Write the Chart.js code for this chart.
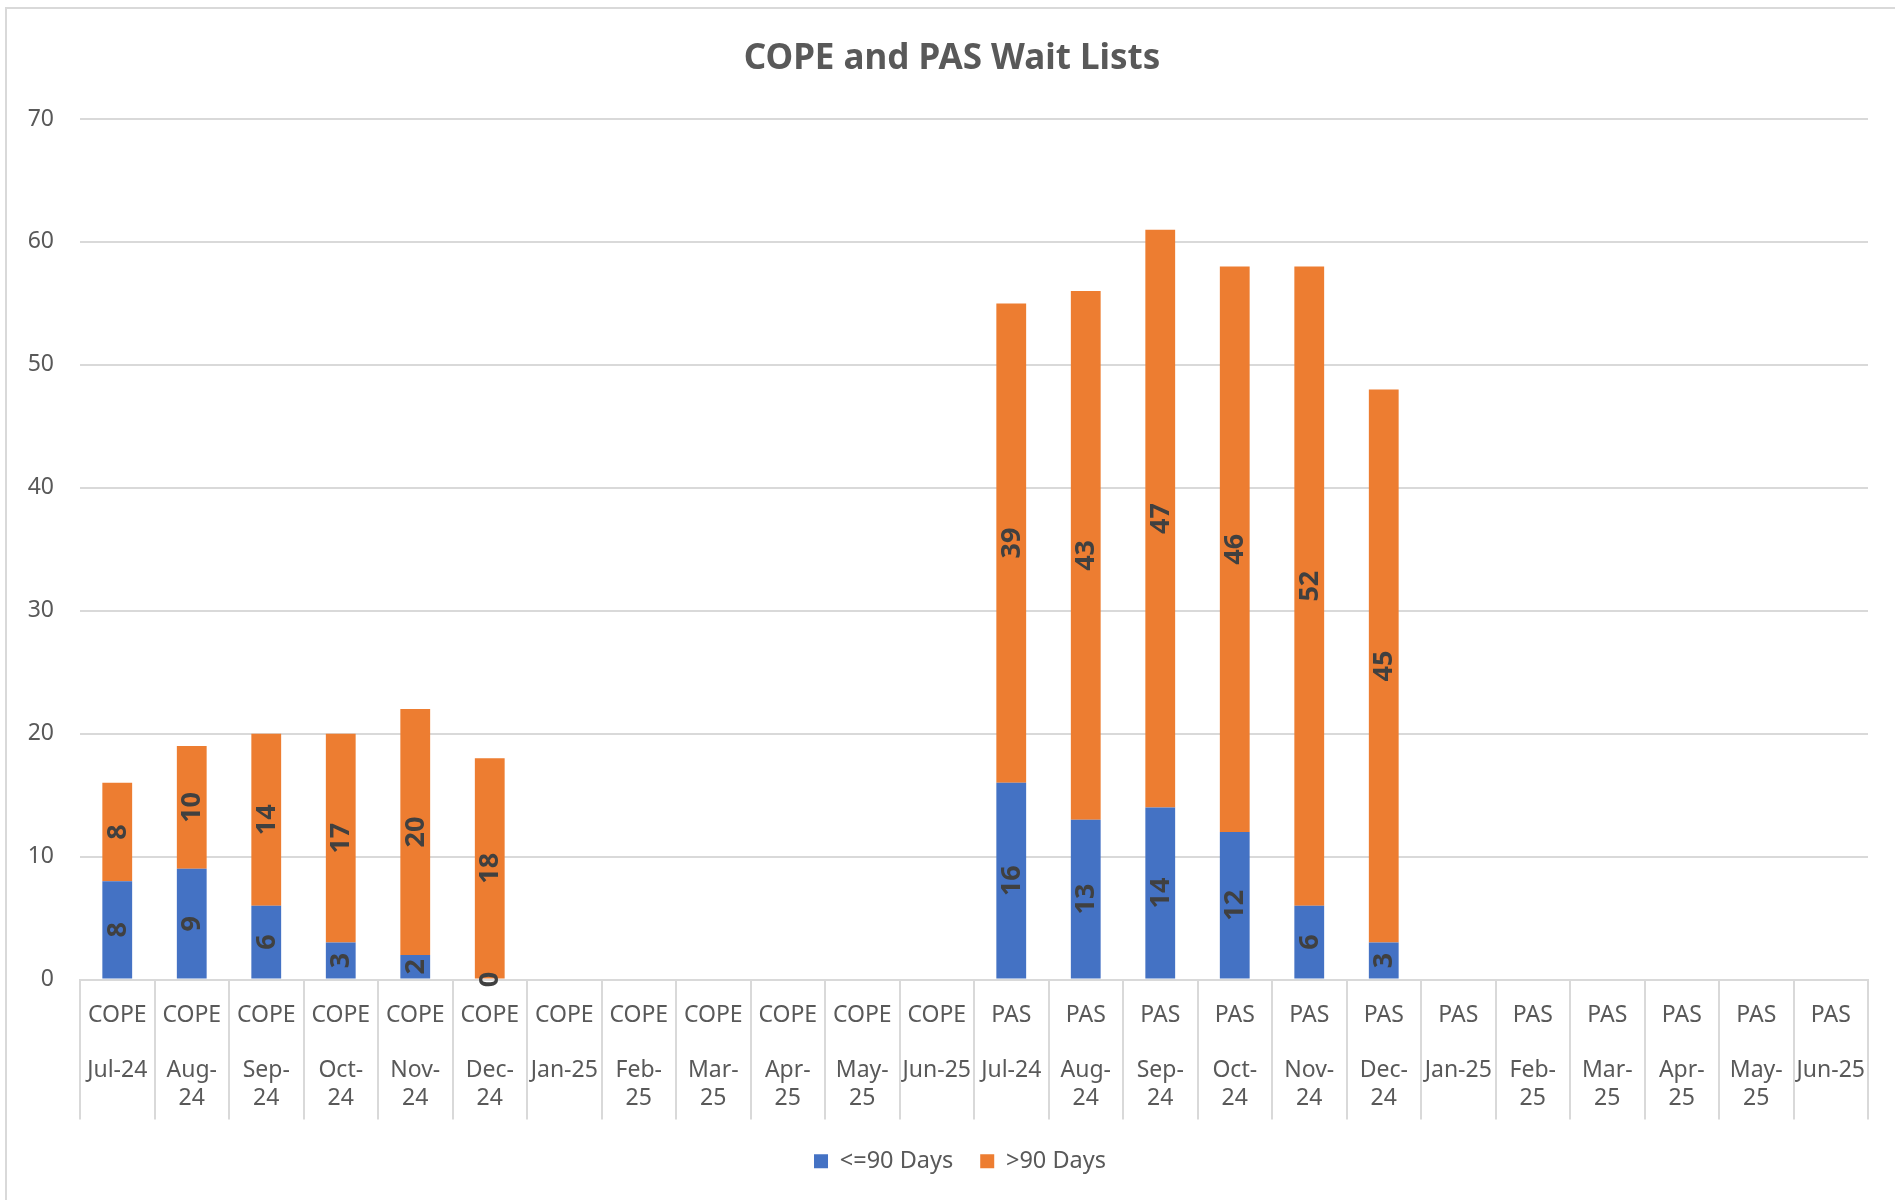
<!DOCTYPE html>
<html>
<head>
<meta charset="utf-8">
<title>COPE and PAS Wait Lists</title>
<script src="https://cdn.jsdelivr.net/npm/chart.js@4.4.1/dist/chart.umd.min.js"></script>
<style>
    html, body { margin: 0; padding: 0; background: #ffffff; overflow: hidden; }
    #frame {
        position: absolute;
        left: 5px;
        top: 7px;
        width: 1892px;
        height: 1193px;
        border: 2px solid #d9d9d9;
        background: #ffffff;
    }
    #waitChart { display: block; }
</style>
</head>
<body>
<div id="frame">
    <canvas id="waitChart" width="1890" height="1191"></canvas>
</div>
<script>
// services and months shown on the category axis
const services = ['COPE', 'PAS'];
const monthLabels = [
    ['Jul-24'], ['Aug-', '24'], ['Sep-', '24'], ['Oct-', '24'], ['Nov-', '24'], ['Dec-', '24'],
    ['Jan-25'], ['Feb-', '25'], ['Mar-', '25'], ['Apr-', '25'], ['May-', '25'], ['Jun-25']
];

// people waiting, per month (null = no data yet)
const copeUnder90 = [8, 9, 6, 3, 2, 0, null, null, null, null, null, null];
const copeOver90 = [8, 10, 14, 17, 20, 18, null, null, null, null, null, null];
const pasUnder90 = [16, 13, 14, 12, 6, 3, null, null, null, null, null, null];
const pasOver90 = [39, 43, 47, 46, 52, 45, null, null, null, null, null, null];

const yTicks = [0, 10, 20, 30, 40, 50, 60, 70];

const textColor = '#595959';
const gridColor = '#d9d9d9';
const separatorLength = 140;

const labels = [];
services.forEach(service => {
    monthLabels.forEach(month => {
        labels.push([service, ''].concat(month));
    });
});

const under90 = copeUnder90.concat(pasUnder90);
const over90 = copeOver90.concat(pasOver90);

// values written sideways in the middle of each segment
const barValueLabels = {
    id: 'barValueLabels',
    afterDatasetsDraw(chart) {
        const ctx = chart.ctx;
        ctx.save();
        ctx.font = 'bold 27px "Liberation Sans Narrow", "Noto Sans", sans-serif';
        ctx.fillStyle = '#404040';
        ctx.textAlign = 'center';
        ctx.textBaseline = 'middle';
        chart.data.datasets.forEach((dataset, i) => {
            const meta = chart.getDatasetMeta(i);
            meta.data.forEach((bar, j) => {
                const value = dataset.data[j];
                if (value === null || value === undefined) return;
                const props = bar.getProps(['x', 'y', 'base'], true);
                ctx.save();
                ctx.translate(props.x, (props.y + props.base) / 2);
                ctx.rotate(-Math.PI / 2);
                ctx.fillText(String(value), 0, 1);
                ctx.restore();
            });
        });
        ctx.restore();
    }
};

// vertical separators between the category labels, like the Excel axis
const categorySeparators = {
    id: 'categorySeparators',
    afterDraw(chart) {
        const xScale = chart.scales.x;
        const ctx = chart.ctx;
        const top = chart.chartArea.bottom;
        ctx.save();
        ctx.strokeStyle = gridColor;
        ctx.lineWidth = 2;
        ctx.beginPath();
        for (let i = 0; i <= labels.length; i++) {
            const x = Math.round(xScale.getPixelForValue(i - 0.5));
            ctx.moveTo(x, top);
            ctx.lineTo(x, top + separatorLength);
        }
        ctx.stroke();
        ctx.restore();
    }
};

// Excel centres the title on the whole chart and the legend a bit right of it
const placeTitleAndLegend = {
    id: 'placeTitleAndLegend',
    afterLayout(chart) {
        if (chart.titleBlock) {
            chart.titleBlock.left = 0;
            chart.titleBlock.right = chart.width;
            chart.titleBlock.width = chart.width;
        }
        if (chart.legend) {
            chart.legend.left = 16;
            chart.legend.right = chart.width;
            chart.legend.width = chart.width - 16;
        }
    }
};

const ctx = document.getElementById('waitChart').getContext('2d');

new Chart(ctx, {
    type: 'bar',
    data: {
        labels: labels,
        datasets: [
            {
                label: '<=90 Days',
                data: under90,
                backgroundColor: '#4472C4',
                borderColor: '#4472C4',
                barPercentage: 0.4,
                categoryPercentage: 1.0
            },
            {
                label: '>90 Days',
                data: over90,
                backgroundColor: '#ED7D31',
                borderColor: '#ED7D31',
                barPercentage: 0.4,
                categoryPercentage: 1.0
            }
        ]
    },
    options: {
        responsive: false,
        devicePixelRatio: 1,
        animation: false,
        layout: {
            padding: { top: 0, right: 29, bottom: 17, left: 0 }
        },
        plugins: {
            title: {
                display: true,
                text: 'COPE and PAS Wait Lists',
                color: textColor,
                font: { family: '"Noto Sans", sans-serif', size: 35, weight: 'bold' },
                padding: { top: 29, bottom: 39 }
            },
            legend: {
                position: 'bottom',
                labels: {
                    color: textColor,
                    font: { family: '"Noto Sans", sans-serif', size: 23.5 },
                    boxWidth: 14,
                    boxHeight: 14,
                    padding: 27
                }
            },
            tooltip: { enabled: false }
        },
        scales: {
            x: {
                stacked: true,
                afterFit(scale) {
                    scale.height = 143;
                },
                grid: {
                    offset: true,
                    display: true,
                    drawOnChartArea: false,
                    drawTicks: false,
                    color: gridColor
                },
                border: { display: true, color: gridColor, width: 2 },
                ticks: {
                    color: textColor,
                    font: { family: '"Noto Sans", sans-serif', size: 23, lineHeight: 1.2 },
                    maxRotation: 0,
                    minRotation: 0,
                    autoSkip: false,
                    padding: 22
                }
            },
            y: {
                stacked: true,
                min: 0,
                max: 70,
                afterFit(scale) {
                    scale.width = 73;
                },
                afterBuildTicks(scale) {
                    scale.ticks = yTicks.map(v => ({ value: v }));
                },
                grid: {
                    color: gridColor,
                    lineWidth: 2,
                    drawTicks: false
                },
                border: { display: false },
                ticks: {
                    color: textColor,
                    font: { family: '"Noto Sans", sans-serif', size: 23 },
                    padding: 26
                }
            }
        }
    },
    plugins: [barValueLabels, categorySeparators, placeTitleAndLegend]
});
</script>
</body>
</html>
